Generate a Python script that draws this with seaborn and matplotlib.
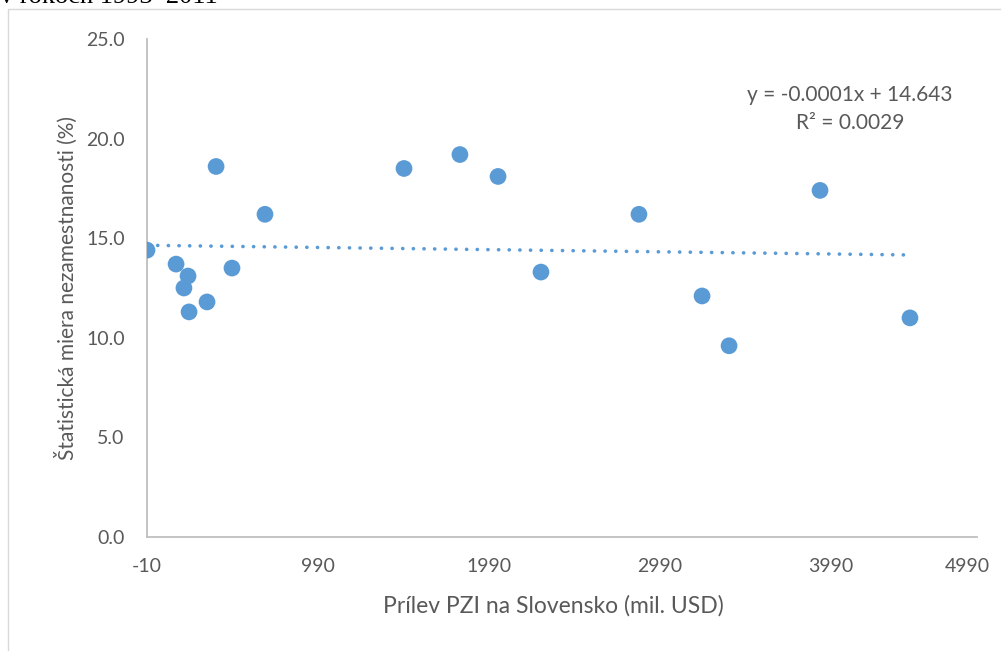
import matplotlib
matplotlib.use("Agg")
import matplotlib.pyplot as plt
import seaborn as sns
import pandas as pd
from matplotlib.patches import Rectangle

# Data
fdi_inflow = [-10, 160, 230, 206, 236, 341, 394, 680, 487, 1493, 1820, 2043, 2294, 2867, 3236, 3394, 3926, 4452]
unemployment = [14.4, 13.7, 13.1, 12.5, 11.3, 11.8, 18.6, 16.2, 13.5, 18.5, 19.2, 18.1, 13.3, 16.2, 12.1, 9.6, 17.4, 11.0]
x_ticks = [-10, 990, 1990, 2990, 3990]
x_last_label = "4990"
y_ticks = [0.0, 5.0, 10.0, 15.0, 20.0, 25.0]
eq_line = "y = -0.0001x + 14.643"
r2_line = "R² = 0.0029"
x_title = "Prílev PZI na Slovensko (mil. USD)"
y_title = "Štatistická miera nezamestnanosti (%)"
header = "v rokoch 1993–2011"

df = pd.DataFrame({"x": fdi_inflow, "y": unemployment})

sns.set_theme(style="white")
plt.rcParams["font.family"] = ["Lato", "DejaVu Sans"]

W, H = 1001, 651
fig = plt.figure(figsize=(W / 100, H / 100), dpi=100)
ax_left, ax_right, ax_top, ax_bottom = 147, 977, 39, 537
ax = fig.add_axes([ax_left / W, 1 - ax_bottom / H, (ax_right - ax_left) / W, (ax_bottom - ax_top) / H])

blue = "#5B9BD5"
grey_txt = "#595959"

sns.scatterplot(data=df, x="x", y="y", ax=ax, s=145, color=blue, edgecolor="none", zorder=3)
sns.regplot(data=df, x="x", y="y", ax=ax, scatter=False, ci=None, truncate=True,
            line_kws=dict(color=blue, lw=2.6, linestyle=(0, (0.05, 2.9))))
for l in ax.lines:
    l.set_dash_capstyle("round")

ax.set_xlim(-10, 4844)
ax.set_ylim(0, 25)
ax.set_xticks(x_ticks)
ax.set_xticklabels([str(t) for t in x_ticks])
ax.set_yticks(y_ticks)
ax.set_yticklabels([f"{t:.1f}" for t in y_ticks])
ax.tick_params(axis="both", length=0, labelsize=14, labelcolor=grey_txt)
ax.tick_params(axis="y", pad=16)
ax.tick_params(axis="x", pad=15)

# last x label (squeezed at the right end of the axis, as in the reference)
fig.text(967 / W, 1 - 567 / H, x_last_label, ha="center", va="center", fontsize=14, color=grey_txt)

for side in ["top", "right"]:
    ax.spines[side].set_visible(False)
for side in ["left", "bottom"]:
    ax.spines[side].set_color("#BFBFBF")
    ax.spines[side].set_linewidth(1.3)

ax.set_xlabel(x_title, fontsize=16.5, color=grey_txt)
ax.xaxis.set_label_coords((553 - ax_left) / (ax_right - ax_left), (ax_bottom - 595) / (ax_bottom - ax_top))
ax.set_ylabel(y_title, fontsize=15, color=grey_txt, labelpad=6)

fig.text(850 / W, 1 - 95 / H, eq_line, ha="center", va="center", fontsize=15, color=grey_txt)
fig.text(850 / W, 1 - 123 / H, r2_line, ha="center", va="center", fontsize=15, color=grey_txt)

# chart-area border
fig.patches.append(Rectangle((8 / W, -0.1), 1.5, 1 - 9 / H + 0.1, transform=fig.transFigure,
                             fill=False, edgecolor="#D9D9D9", lw=1.0))

fig.text(0.0, 1 - 3 / H, header, fontsize=19, family="Liberation Serif", color="black",
         va="baseline", ha="left")

fig.savefig("out.png", dpi=100)
